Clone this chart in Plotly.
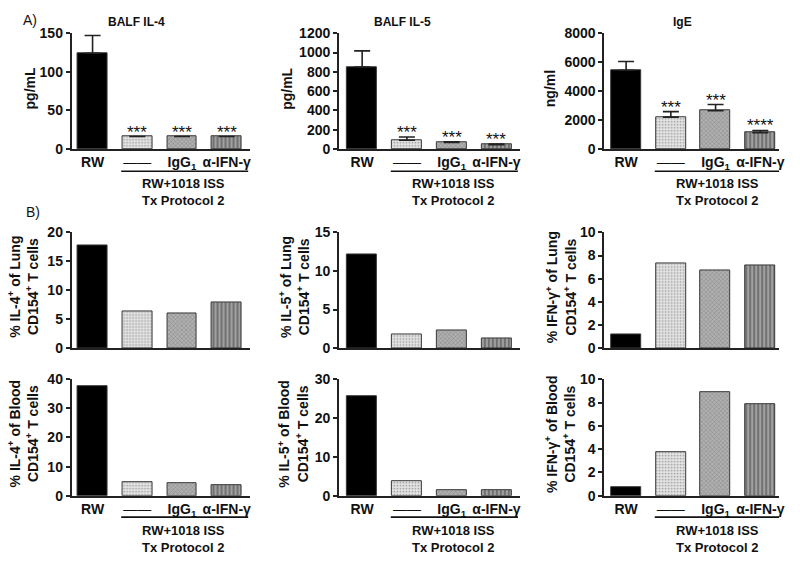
import plotly.graph_objects as go

W, H = 800, 565

categories = ["RW", "none", "IgG1", "aIFNg"]
tick_labels = ["RW", "<span style='font-weight:normal'>——</span>", "IgG<sub>1</sub>", "α-IFN-γ"]
group_label = "RW+1018 ISS<br>Tx Protocol 2"

balf_il4 = [124, 16, 16, 16]
balf_il4_err = [23, 0, 0, 0]
balf_il5 = [850, 90, 67, 43]
balf_il5_err = [167, 33, 7, 7]
ige = [5445, 2200, 2640, 1120]
ige_err = [605, 375, 430, 157]
stars_balf = ["", "***", "***", "***"]
stars_ige = ["", "***", "***", "****"]

lung_il4 = [17.8, 6.4, 6.05, 7.85]
lung_il5 = [12.2, 1.76, 2.3, 1.26]
lung_ifng = [1.17, 7.35, 6.7, 7.12]
blood_il4 = [37.6, 4.8, 4.2, 3.7]
blood_il5 = [25.6, 3.7, 1.4, 1.4]
blood_ifng = [0.75, 3.78, 8.9, 7.88]

FONT = "Liberation Sans, Arial, sans-serif"
TXT = "#111111"

bar_colors = ["#000000", "#e4e4e4", "#b0b0b0", "#a0a0a0"]
pat_shapes = ["", ".", "x", "|"]
pat_fg = ["#000000", "#b4b4b4", "#606060", "#2a2a2a"]
pat_size = [4, 3, 3, 4]
pat_sol = [0.3, 0.25, 0.25, 0.5]

col_px = [(72, 252, [-0.47, 3.53]), (341, 523, [-0.52, 3.52]), (608, 784, [-0.49, 3.42])]
row_px = [(145, 26), (350, 231), (502, 382)]

panels = [
    (0, 0, balf_il4, balf_il4_err, stars_balf, 150, 50),
    (0, 1, balf_il5, balf_il5_err, stars_balf, 1200, 200),
    (0, 2, ige, ige_err, stars_ige, 8000, 2000),
    (1, 0, lung_il4, None, None, 20, 5),
    (1, 1, lung_il5, None, None, 15, 5),
    (1, 2, lung_ifng, None, None, 10, 2),
    (2, 0, blood_il4, None, None, 40, 10),
    (2, 1, blood_il5, None, None, 30, 10),
    (2, 2, blood_ifng, None, None, 10, 2),
]

fig = go.Figure()
annotations = []
shapes = []

for i, (r, c, vals, err, stars, ymax, dtick) in enumerate(panels):
    n = i + 1
    xa = "x" if n == 1 else f"x{n}"
    ya = "y" if n == 1 else f"y{n}"
    xl = "xaxis" if n == 1 else f"xaxis{n}"
    yl = "yaxis" if n == 1 else f"yaxis{n}"
    x0, x1, xr = col_px[c]
    yb, yt = row_px[r]
    tr = dict(
        x=list(range(4)), y=vals, width=0.667,
        marker=dict(
            color=bar_colors,
            line=dict(color="#383838", width=1),
            pattern=dict(shape=pat_shapes, fgcolor=pat_fg, size=pat_size,
                         solidity=pat_sol, fillmode="overlay"),
        ),
        xaxis=xa, yaxis=ya, showlegend=False, hoverinfo="y",
    )
    if err is not None:
        tr["error_y"] = dict(type="data", symmetric=False, array=err,
                             arrayminus=[0] * 4, color="#222222",
                             thickness=1.6, width=8)
    fig.add_trace(go.Bar(**tr))

    show_x = r != 1
    fig.layout[xl] = dict(
        domain=[x0 / W, x1 / W], range=xr, anchor=ya,
        showline=True, linecolor="#222222", linewidth=1.6,
        ticks="", showgrid=False, zeroline=False,
        showticklabels=show_x,
        tickmode="array", tickvals=list(range(4)), ticktext=tick_labels,
        tickfont=dict(family=FONT, size=14, color=TXT, weight="bold"),
    )
    fig.layout[yl] = dict(
        domain=[1 - yb / H, 1 - yt / H], range=[0, ymax], anchor=xa,
        showline=True, linecolor="#222222", linewidth=1.6,
        ticks="outside", ticklen=4, tickwidth=1.6, tickcolor="#222222",
        dtick=dtick, tick0=0, showgrid=False, zeroline=False,
        tickfont=dict(family=FONT, size=14, color=TXT, weight="bold"),
    )

    if stars is not None:
        for k in range(4):
            if stars[k]:
                annotations.append(dict(
                    x=k, y=vals[k] + err[k], xref=xa, yref=ya,
                    text=stars[k], showarrow=False, yanchor="bottom",
                    xanchor="center", yshift=-7,
                    font=dict(family=FONT, size=17, color=TXT)))

    if show_x:
        hfrac = yb - yt
        base = 145 if r == 0 else 502
        line_px = 168 if r == 0 else 524
        txt_px = 189 if r == 0 else 546
        shapes.append(dict(type="line", xref=xa, yref=f"{ya} domain",
                           x0=0.64, x1=3.48,
                           y0=-(line_px - base) / hfrac, y1=-(line_px - base) / hfrac,
                           line=dict(color="#111111", width=1.6)))
        annotations.append(dict(
            x=2.04, y=-(txt_px - base) / hfrac, xref=xa, yref=f"{ya} domain",
            text=f"<b>{group_label}</b>", showarrow=False,
            yanchor="middle", xanchor="center",
            font=dict(family=FONT, size=13, color=TXT)))

for txt, x in [("BALF IL-4", 137), ("BALF IL-5", 405), ("IgE", 687)]:
    annotations.append(dict(x=x / W, y=1 - 14 / H, xref="paper", yref="paper",
                            text=f"<b>{txt}</b>", showarrow=False,
                            xanchor="center", yanchor="middle",
                            font=dict(family=FONT, size=12, color=TXT)))

annotations.append(dict(x=30 / W, y=1 - 12 / H, xref="paper", yref="paper",
                        text="A)", showarrow=False, xanchor="center", yanchor="middle",
                        font=dict(family=FONT, size=14, color=TXT)))
annotations.append(dict(x=33 / W, y=1 - 210 / H, xref="paper", yref="paper",
                        text="B)", showarrow=False, xanchor="center", yanchor="middle",
                        font=dict(family=FONT, size=14, color=TXT)))

ytitles = [
    ("pg/mL", 30, 83), ("pg/mL", 288, 83), ("ng/ml", 553, 83),
    ("% IL-4<sup>+</sup> of Lung<br>CD154<sup>+</sup> T cells", 23, 287),
    ("% IL-5<sup>+</sup> of Lung<br>CD154<sup>+</sup> T cells", 296, 287),
    ("% IFN-γ<sup>+</sup> of Lung<br>CD154<sup>+</sup> T cells", 564, 287),
    ("% IL-4<sup>+</sup> of Blood<br>CD154<sup>+</sup> T cells", 23, 438),
    ("% IL-5<sup>+</sup> of Blood<br>CD154<sup>+</sup> T cells", 294, 438),
    ("% IFN-γ<sup>+</sup> of Blood<br>CD154<sup>+</sup> T cells", 563, 438),
]
for txt, x, y in ytitles:
    annotations.append(dict(x=x / W, y=1 - y / H, xref="paper", yref="paper",
                            text=f"<b>{txt}</b>", showarrow=False, textangle=-90,
                            xanchor="center", yanchor="middle",
                            font=dict(family=FONT, size=14, color=TXT)))

fig.update_layout(
    width=W, height=H, margin=dict(l=0, r=0, t=0, b=0),
    paper_bgcolor="white", plot_bgcolor="white",
    annotations=annotations, shapes=shapes, bargap=0,
    font=dict(family=FONT, color=TXT),
)

fig.write_html(
    "out.html",
    config={"displayModeBar": False},
    post_script="document.body.style.margin='0';document.body.style.overflow='hidden';",
)
